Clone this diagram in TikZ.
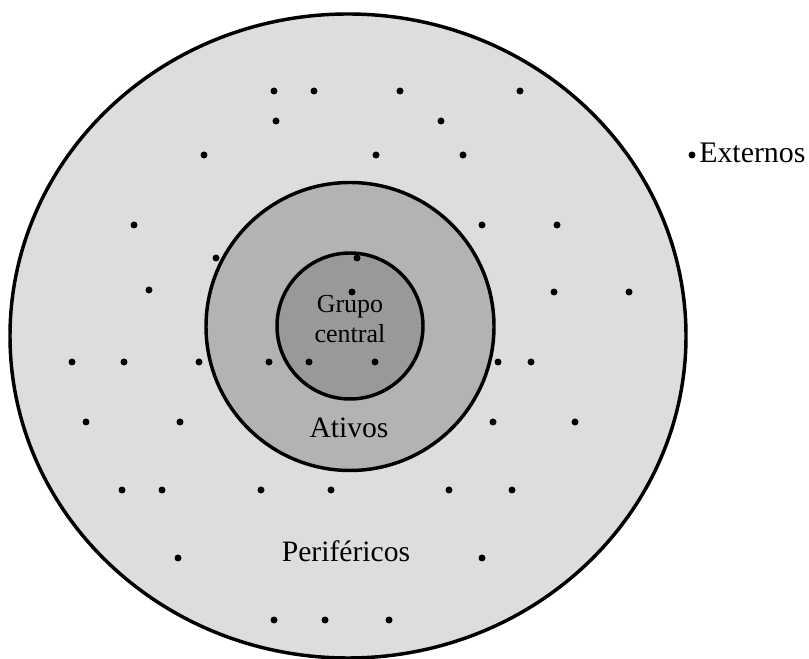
\documentclass[tikz,border=0pt]{standalone}
\usepackage{xcolor}
\usepackage{fontspec}
\setmainfont{Liberation Serif}
\definecolor{RingOuter}{HTML}{DDDDDD}
\definecolor{RingMid}{HTML}{B3B3B3}
\definecolor{RingCore}{HTML}{999999}
\begin{document}
\begin{tikzpicture}[x=0.75pt,y=0.75pt]
\path[use as bounding box] (0,0) rectangle (809,659);
\filldraw[fill=RingOuter,line width=2.6pt] (348,323) ellipse [x radius=338,y radius=322];
\filldraw[fill=RingMid,line width=2.6pt] (350,332.5) circle [radius=144];
\filldraw[fill=RingCore,line width=2.6pt] (350,333) circle [radius=73];
\node[anchor=base,inner sep=0,align=center,font=\fontsize{19.5}{22.5}\selectfont] (core) at (350,316) {Grupo\\central};
\node[anchor=base,inner sep=0,font=\fontsize{22.2}{26}\selectfont] (active) at (349,221) {Ativos};
\node[anchor=base,inner sep=0,font=\fontsize{22.2}{26}\selectfont] (periph) at (346,97) {Periféricos};
\node[anchor=base west,inner sep=0,font=\fontsize{22.4}{26}\selectfont] (extern) at (699,496) {Externos};
\fill (692,504) circle [radius=3.5];
\fill (274,568) circle [radius=3.5];
\fill (314,568) circle [radius=3.5];
\fill (400,568) circle [radius=3.5];
\fill (520,568) circle [radius=3.5];
\fill (276,538) circle [radius=3.5];
\fill (441,538) circle [radius=3.5];
\fill (204,504) circle [radius=3.5];
\fill (376,504) circle [radius=3.5];
\fill (463,504) circle [radius=3.5];
\fill (134,434) circle [radius=3.5];
\fill (482,434) circle [radius=3.5];
\fill (557,434) circle [radius=3.5];
\fill (216,401) circle [radius=3.5];
\fill (357,401) circle [radius=3.5];
\fill (149,369) circle [radius=3.5];
\fill (352,367) circle [radius=3.5];
\fill (554,367) circle [radius=3.5];
\fill (629,367) circle [radius=3.5];
\fill (72,297) circle [radius=3.5];
\fill (124,297) circle [radius=3.5];
\fill (199,297) circle [radius=3.5];
\fill (269,297) circle [radius=3.5];
\fill (309,297) circle [radius=3.5];
\fill (375,297) circle [radius=3.5];
\fill (498,297) circle [radius=3.5];
\fill (531,297) circle [radius=3.5];
\fill (86,237) circle [radius=3.5];
\fill (180,237) circle [radius=3.5];
\fill (493,237) circle [radius=3.5];
\fill (575,237) circle [radius=3.5];
\fill (122,169) circle [radius=3.5];
\fill (162,169) circle [radius=3.5];
\fill (261,169) circle [radius=3.5];
\fill (331,169) circle [radius=3.5];
\fill (449,169) circle [radius=3.5];
\fill (512,169) circle [radius=3.5];
\fill (178,101) circle [radius=3.5];
\fill (482,101) circle [radius=3.5];
\fill (274,39) circle [radius=3.5];
\fill (325,39) circle [radius=3.5];
\fill (389,39) circle [radius=3.5];
\end{tikzpicture}
\end{document}
